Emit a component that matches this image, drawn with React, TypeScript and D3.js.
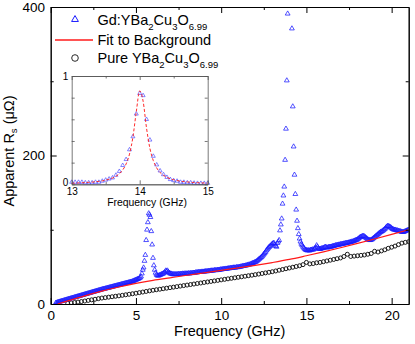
import React, { useEffect, useRef } from 'react'
import * as d3 from 'd3'

// Gd:YBa2Cu3O6.99, apparent Rs in micro-ohm, one reading every 0.05 GHz starting at 0.30 GHz
const gdStart = 0.3
const gdStep = 0.05
const gdValues = [
  1.5, 1.8, 2.2, 2.6, 2.9, 3.3, 3.6, 4.0, 4.3, 4.6, 5.0, 5.3, 5.7, 6.0, 6.3, 6.7, 7.0, 7.3, 7.7, 8.0,
  8.3, 8.6, 9.0, 9.3, 9.6, 10.0, 10.3, 10.6, 11.0, 11.3, 11.6, 12.0, 12.3, 12.6, 13.0, 13.3, 13.6, 14.0, 14.3, 14.6,
  15.0, 15.3, 15.6, 16.0, 16.3, 16.6, 17.0, 17.3, 17.6, 18.0, 18.3, 18.6, 19.0, 19.3, 19.6, 20.0, 20.3, 20.5, 20.8, 21.1,
  21.4, 21.7, 22.0, 22.3, 22.6, 22.9, 23.2, 23.5, 23.8, 24.1, 24.4, 24.7, 25.0, 25.3, 25.6, 25.9, 26.2, 26.5, 26.8, 27.1,
  27.4, 27.7, 28.0, 28.3, 28.6, 28.9, 29.2, 29.5, 29.8, 30.1, 30.5, 31.0, 31.5, 32.0, 32.6, 33.0, 33.5, 34.0, 34.8, 35.5,
  37, 41, 46, 49, 58, 66, 86, 100, 110, 122, 120, 117, 98, 80, 62, 52, 46, 42, 39.5, 38.5,
  38, 38.5, 39, 39.5, 40, 40.5, 41, 42, 43, 45, 44, 45, 43, 42, 41, 41, 40.5, 40, 40, 40,
  40, 40, 40, 40, 40.5, 40, 40.5, 40.5, 40.5, 41, 40.5, 41, 41, 41, 41, 41, 41.5, 41, 41.5, 41.5,
  41.5, 42, 42, 42, 42.5, 42.5, 42.5, 43, 43, 43, 43, 43.5, 43.5, 43.5, 43.5, 44, 44, 44, 44, 44.5,
  44.5, 44.5, 45, 45, 45, 45, 45.5, 45.5, 45.5, 45.5, 46, 46, 46, 46.5, 46.5, 46.5, 47, 47, 47, 47.5,
  47.5, 47.5, 48, 48, 48, 48.5, 48.5, 48.5, 49, 49, 49, 49, 49.5, 49.5, 49.5, 50, 50, 50.5, 50.5, 51,
  51, 51.5, 51.5, 52, 52, 52.5, 53, 53, 53.5, 54, 54.5, 55, 55.5, 56, 56.5, 57, 58, 59, 60, 61,
  62, 63, 64, 65.5, 67, 68.5, 70, 72, 73.5, 75, 76.5, 77.5, 78.5, 80, 81, 82, 82, 80, 78, 77,
  82, 84, 86, 99, 107, 115, 135, 146, 158, 194, 236, 301, 391, 470, 520, 510, 450, 371, 266, 212,
  174, 148, 127, 112, 102, 94, 88, 84, 81, 79, 77, 75.5, 74, 73, 72.5, 72, 72.5, 72, 72, 73,
  73, 73.5, 73, 74, 75, 76, 79, 77, 75, 74, 74, 74.5, 75, 75, 75.5, 76, 77, 76.5, 76, 76,
  76.5, 77, 77, 77, 77.5, 78, 78, 78.5, 79, 79, 79.5, 79.5, 80, 80, 80.5, 80.5, 81, 81, 81.5, 81.5,
  82, 82, 82.5, 82.5, 83, 83, 83.5, 84, 84, 84.5, 85, 85.5, 86, 86.5, 87, 88, 89, 90, 90.5, 91,
  91.5, 91.5, 91, 90, 89, 88, 87, 86.5, 86, 86, 86.5, 87, 88, 89, 90, 91, 92, 93, 94, 95,
  96, 97, 97.5, 98, 99, 100, 101, 102.5, 104, 105, 105, 104.5, 104, 103, 102, 101, 100.5, 100, 100, 99.5,
  99, 99, 98.5, 98, 98, 97.5, 97, 97, 97, 97.5, 98, 98.5, 99, 99.5, 100
]

// pure YBa2Cu3O6.99, one reading every 0.2 GHz starting at 1.0 GHz
const pureStart = 1.0
const pureStep = 0.2
const pureValues = [
  1, 1.5, 2, 2.6, 3.3, 4, 4.8, 5.6, 6.4, 7.2,
  8, 8.6, 9.2, 9.8, 10.4, 11, 11.7, 12.4, 13.1, 13.8,
  14.5, 15.3, 16.1, 16.9, 17.7, 18.5, 19.2, 19.9, 20.6, 21.3,
  22, 22.7, 23.4, 24.1, 24.8, 25.5, 26.2, 26.9, 27.6, 28.3,
  29, 29.7, 30.4, 31.1, 31.8, 32.5, 33.2, 33.9, 34.6, 35.3,
  36, 36.7, 37.4, 38.1, 38.8, 39.5, 40.3, 41.1, 41.9, 42.7,
  43.5, 44.5, 45.5, 46.5, 47.5, 48.5, 49.5, 50.5, 51.5, 53,
  56, 54, 54.5, 55.5, 56, 57, 58, 59, 60, 61,
  62, 64, 67, 64, 64.5, 65, 65.5, 66, 67, 68,
  71, 70, 71.5, 73, 75, 76.5, 78, 80, 82, 83,
  84
]

// fit to background
const fitFreq = [0.4, 1, 2, 3, 4, 5, 6, 7, 8, 9, 10, 11, 12, 13, 14, 15, 16, 17, 18, 19, 20, 21]
const fitValues = [0, 4.2, 11, 17.3, 22.9, 27.8, 31.9, 35.3, 38.7, 42, 45.3, 48.6, 52, 55.8, 60, 65, 70.2, 75.8, 81.6, 87.6, 93.7, 100]

// inset: normalised peak near 14 GHz, every 0.05 GHz from 13.00 GHz
const insetStart = 13.0
const insetStep = 0.05
const insetValues = [
  0.02, 0.02, 0.02, 0.02, 0.015, 0.015, 0.015, 0.02, 0.02, 0.03,
  0.04, 0.05, 0.06, 0.085, 0.12, 0.175, 0.23, 0.32, 0.44, 0.65,
  0.84, 0.82, 0.6, 0.41, 0.26, 0.18, 0.125, 0.09, 0.065, 0.045,
  0.035, 0.03, 0.02, 0.02, 0.015, 0.015, 0.012, 0.01, 0.01, 0.01,
  0.01
]
const insetFit = [
  0.010, 0.011, 0.013, 0.014, 0.016, 0.018, 0.020, 0.024, 0.027, 0.032,
  0.039, 0.047, 0.058, 0.074, 0.097, 0.132, 0.188, 0.279, 0.435, 0.671,
  0.863, 0.768, 0.521, 0.332, 0.219, 0.151, 0.109, 0.083, 0.064, 0.051,
  0.042, 0.035, 0.029, 0.025, 0.022, 0.019, 0.017, 0.015, 0.013, 0.012,
  0.011
]

const xTicks = [0, 5, 10, 15, 20]
const xMinorTicks = [2.5, 7.5, 12.5, 17.5]
const yTicks = [0, 200, 400]
const yMinorTicks = [100, 300]
const insetXTicks = [13, 14, 15]
const insetXMinorTicks = [13.5, 14.5]
const insetYTicks = [0, 0.2, 0.4, 0.6, 0.8, 1]
const insetYLabels = [0, 1]

const FONT = '"Liberation Sans", Arial, Helvetica, sans-serif'
const BLUE = '#1a1aff'
const RED = '#ff1a1a'

function RsChart() {
  const ref = useRef<SVGSVGElement>(null)

  useEffect(() => {
    const svg = d3.select(ref.current)
    svg.selectAll('*').remove()
    svg.attr('font-family', FONT)

    const x = d3.scaleLinear().domain([0, 21]).range([50.7, 408.7])
    const y = d3.scaleLinear().domain([0, 400]).range([304, 7])

    const gd = gdValues.map((v, i) => ({ f: +(gdStart + i * gdStep).toFixed(2), v }))
    const pure = pureValues.map((v, i) => ({ f: +(pureStart + i * pureStep).toFixed(2), v }))
    const fit = fitFreq.map((f, i) => ({ f, v: fitValues[i] }))

    svg.append('defs').append('clipPath').attr('id', 'plot-clip')
      .append('rect')
      .attr('x', x(0)).attr('y', y(400))
      .attr('width', x(21) - x(0)).attr('height', y(0) - y(400))

    const plot = svg.append('g').attr('clip-path', 'url(#plot-clip)')

    plot.append('g').selectAll('circle').data(pure).join('circle')
      .attr('cx', d => x(d.f)).attr('cy', d => y(d.v)).attr('r', 2)
      .attr('fill', 'none').attr('stroke', '#111').attr('stroke-width', 0.95)

    const tri = d3.symbol(d3.symbolTriangle, 10)()
    plot.append('g').selectAll('path').data(gd).join('path')
      .attr('transform', d => `translate(${x(d.f)},${y(d.v)})`)
      .attr('d', tri)
      .attr('fill', 'none').attr('stroke', BLUE).attr('stroke-width', 0.75)

    const line = d3.line<{ f: number, v: number }>()
      .x(d => x(d.f)).y(d => y(d.v)).curve(d3.curveMonotoneX)
    plot.append('path').datum(fit).attr('d', line)
      .attr('fill', 'none').attr('stroke', RED).attr('stroke-width', 1.2)

    // axes, ticks point inward on all four sides
    const axisStyle = (g: any, size: number) => {
      g.attr('font-family', FONT).attr('font-size', size)
      g.selectAll('text').attr('fill', '#000')
      g.selectAll('line').attr('stroke', '#000')
      g.select('.domain').attr('stroke', '#000')
    }
    const bottom = svg.append('g').attr('transform', `translate(0,${y(0)})`)
      .call(d3.axisBottom(x).tickValues(xTicks).tickSize(-6).tickSizeOuter(0).tickPadding(6.7).tickFormat(d3.format('d')))
    axisStyle(bottom, 13.5)
    svg.append('g').attr('transform', `translate(0,${y(0)})`)
      .call(d3.axisBottom(x).tickValues(xMinorTicks).tickSize(-3).tickSizeOuter(0).tickFormat(() => ''))
    svg.append('g').attr('transform', `translate(0,${y(400)})`)
      .call(d3.axisTop(x).tickValues(xTicks).tickSize(-6).tickSizeOuter(0).tickFormat(() => ''))
    svg.append('g').attr('transform', `translate(0,${y(400)})`)
      .call(d3.axisTop(x).tickValues(xMinorTicks).tickSize(-3).tickSizeOuter(0).tickFormat(() => ''))

    const left = svg.append('g').attr('transform', `translate(${x(0)},0)`)
      .call(d3.axisLeft(y).tickValues(yTicks).tickSize(-6).tickSizeOuter(0).tickPadding(5.7).tickFormat(d3.format('d')))
    axisStyle(left, 13.5)
    svg.append('g').attr('transform', `translate(${x(0)},0)`)
      .call(d3.axisLeft(y).tickValues(yMinorTicks).tickSize(-3).tickSizeOuter(0).tickFormat(() => ''))
    svg.append('g').attr('transform', `translate(${x(21)},0)`)
      .call(d3.axisRight(y).tickValues(yTicks).tickSize(-6).tickSizeOuter(0).tickFormat(() => ''))
    svg.append('g').attr('transform', `translate(${x(21)},0)`)
      .call(d3.axisRight(y).tickValues(yMinorTicks).tickSize(-3).tickSizeOuter(0).tickFormat(() => ''))

    svg.append('text')
      .attr('x', (x(0) + x(21)) / 2).attr('y', 336.4)
      .attr('text-anchor', 'middle').attr('font-size', 14.5)
      .text('Frequency (GHz)')

    const yTitle = svg.append('text')
      .attr('transform', 'translate(13.5,151) rotate(-90)')
      .attr('text-anchor', 'middle').attr('font-size', 14.5)
    yTitle.append('tspan').text('Apparent R')
    yTitle.append('tspan').attr('font-size', 9.5).attr('dy', 3.5).text('s')
    yTitle.append('tspan').attr('dy', -3.5).text(' (\u03bc\u03a9)')

    // legend
    const legend = svg.append('g').attr('font-size', 14.5)
    legend.append('path').attr('transform', 'translate(75,19.5)')
      .attr('d', d3.symbol(d3.symbolTriangle, 20)())
      .attr('fill', 'none').attr('stroke', BLUE).attr('stroke-width', 1)
    legend.append('line').attr('x1', 55).attr('x2', 93).attr('y1', 40).attr('y2', 40)
      .attr('stroke', RED).attr('stroke-width', 1.3)
    legend.append('circle').attr('cx', 75).attr('cy', 58).attr('r', 3.3)
      .attr('fill', 'none').attr('stroke', '#111').attr('stroke-width', 0.9)

    const formula = (yBase: number, parts: string[]) => {
      const t = legend.append('text').attr('x', 97.5).attr('y', yBase)
      parts.forEach((p, i) => {
        const sub = i % 2 === 1
        const prevSub = i > 0 && (i - 1) % 2 === 1
        t.append('tspan')
          .attr('font-size', sub ? 9.5 : 14.5)
          .attr('dy', sub ? 4.5 : (prevSub ? -4.5 : 0))
          .text(p)
      })
    }
    formula(25, ['Gd:YBa', '2', 'Cu', '3', 'O', '6.99'])
    legend.append('text').attr('x', 97.5).attr('y', 45).text('Fit to Background')
    formula(63.3, ['Pure YBa', '2', 'Cu', '3', 'O', '6.99'])

    // inset
    const xi = d3.scaleLinear().domain([13, 15]).range([71.7, 207.7])
    const yi = d3.scaleLinear().domain([0, 1]).range([184.3, 76])
    const inset = svg.append('g')
    const insetPts = insetValues.map((v, i) => ({ f: +(insetStart + i * insetStep).toFixed(2), v }))
    const insetFitPts = insetFit.map((v, i) => ({ f: +(insetStart + i * insetStep).toFixed(2), v }))

    inset.append('g').selectAll('path').data(insetPts).join('path')
      .attr('transform', d => `translate(${xi(d.f)},${yi(d.v)})`)
      .attr('d', d3.symbol(d3.symbolTriangle, 7)())
      .attr('fill', 'none').attr('stroke', '#5050ff').attr('stroke-width', 0.7)
    const insetLine = d3.line<{ f: number, v: number }>()
      .x(d => xi(d.f)).y(d => yi(d.v)).curve(d3.curveMonotoneX)
    inset.append('path').datum(insetFitPts).attr('d', insetLine)
      .attr('fill', 'none').attr('stroke', '#ff2a2a').attr('stroke-width', 1)
      .attr('stroke-dasharray', '3,2')

    const insetAxis = (g: any) => {
      g.attr('font-family', FONT).attr('font-size', 10)
      g.selectAll('text').attr('fill', '#000')
      g.selectAll('line').attr('stroke', '#555').attr('stroke-width', 0.8)
      g.select('.domain').attr('stroke', '#555').attr('stroke-width', 0.8)
    }
    inset.append('g').attr('transform', `translate(0,${yi(0)})`)
      .call(d3.axisBottom(xi).tickValues(insetXTicks).tickSize(-4).tickSizeOuter(0).tickPadding(3.9)
        .tickFormat(d3.format('d')))
      .call(insetAxis)
    inset.append('g').attr('transform', `translate(0,${yi(0)})`)
      .call(d3.axisBottom(xi).tickValues(insetXMinorTicks).tickSize(-2.5).tickSizeOuter(0).tickFormat(() => ''))
      .call(insetAxis)
    inset.append('g').attr('transform', `translate(0,${yi(1)})`)
      .call(d3.axisTop(xi).tickValues(insetXTicks).tickSize(-4).tickSizeOuter(0).tickFormat(() => ''))
      .call(insetAxis)
    inset.append('g').attr('transform', `translate(0,${yi(1)})`)
      .call(d3.axisTop(xi).tickValues(insetXMinorTicks).tickSize(-2.5).tickSizeOuter(0).tickFormat(() => ''))
      .call(insetAxis)
    const insetLeft = inset.append('g').attr('transform', `translate(${xi(13)},0)`)
      .call(d3.axisLeft(yi).tickValues(insetYTicks).tickSize(-3).tickSizeOuter(0).tickPadding(3.4)
        .tickFormat(d => insetYLabels.includes(+d) ? String(+d) : ''))
      .call(insetAxis)
    // the "0" sits just above the corner so it clears the "13" below it
    insetLeft.selectAll('text').filter((d: any) => +d === 0).attr('dy', '0.1em')
    inset.append('g').attr('transform', `translate(${xi(15)},0)`)
      .call(d3.axisRight(yi).tickValues(insetYTicks).tickSize(-3).tickSizeOuter(0).tickFormat(() => ''))
      .call(insetAxis)

    inset.append('text')
      .attr('x', 147).attr('y', 205.5)
      .attr('text-anchor', 'middle').attr('font-size', 10.4)
      .text('Frequency (GHz)')
  }, [])

  return (
    <svg ref={ref} width={415} height={344}
      style={{ position: 'absolute', left: 0, top: 0, background: '#fff' }} />
  )
}

export default function App() {
  return <RsChart />
}
